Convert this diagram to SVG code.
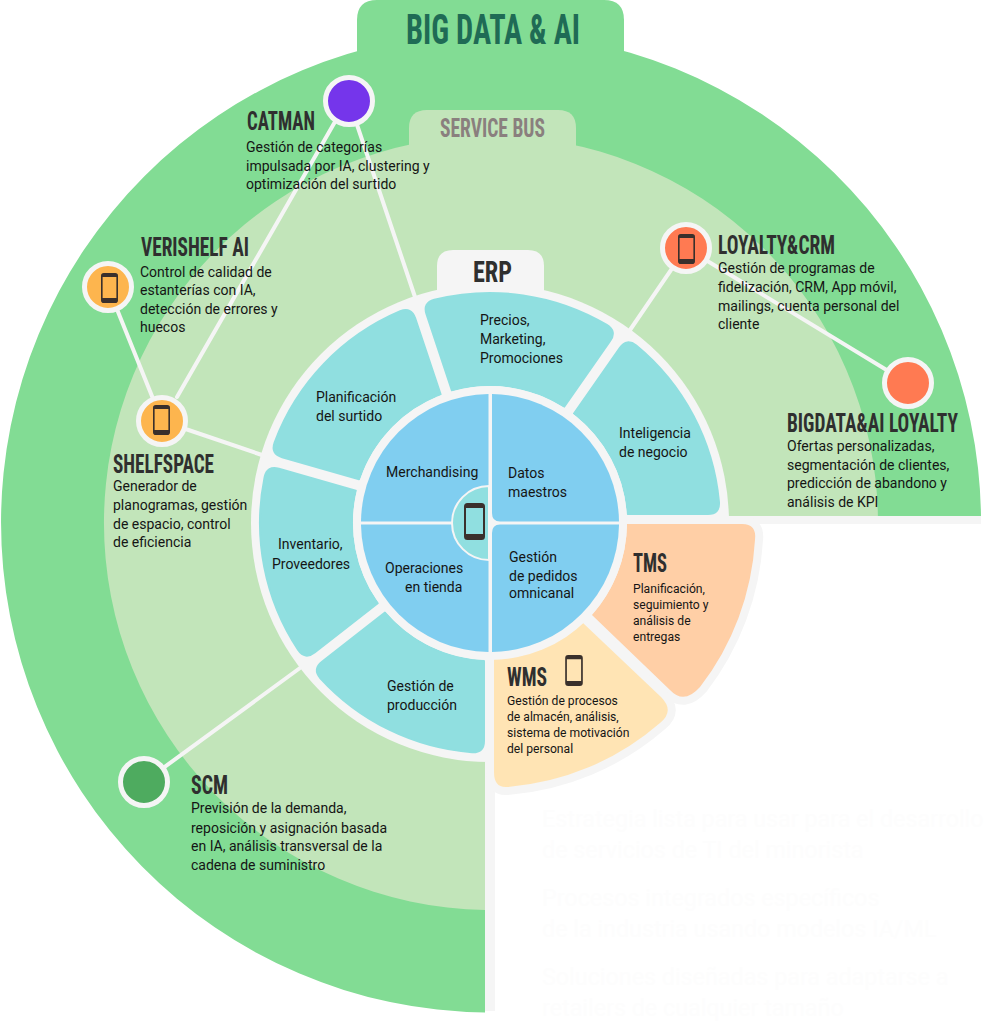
<svg xmlns="http://www.w3.org/2000/svg" width="991" height="1024" viewBox="0 0 991 1024">
<style>
text{font-family:"Roboto","Liberation Sans",sans-serif;fill:#151515;font-size:15px}
text:not(.t):not(.f){transform-box:fill-box;transform-origin:left center;transform:scaleX(.935)}
.t{font-family:"Liberation Sans Narrow","Roboto Condensed","Roboto",sans-serif;font-weight:700;font-size:26px;fill:#2f2f2f}
.s{font-size:13px}
.f{font-size:23.3px;fill:#fdfdfd}
.sec{fill:#90DFE0;stroke:#90DFE0;stroke-width:2;stroke-linejoin:round}
.q{fill:#80CEF0}
.ring{fill:none;stroke:#F5F5F5;stroke-width:4;stroke-linecap:round}
.w{fill:#F5F5F5}
.n{stroke:#F5F5F5;stroke-width:5}
.ph{fill:#3a302c;fill-rule:evenodd}
.out{stroke:#F5F5F5;stroke-width:16;stroke-linejoin:round;paint-order:stroke}
</style>
<defs>
<symbol id="phone" viewBox="0 0 21 37" overflow="visible">
<path class="ph" d="M3.5 0H17.5A3.5 3.5 0 0 1 21 3.5V33.5A3.5 3.5 0 0 1 17.5 37H3.5A3.5 3.5 0 0 1 0 33.5V3.5A3.5 3.5 0 0 1 3.5 0ZM2 5V31H19V5Z"/>
</symbol>
</defs>
<g id="background">
<path d="M485 1012.5A490 490 0 1 1 981 516H485Z" fill="#82DC94"/>
<path d="M357 60V20Q357 0 377 0H604Q624 0 624 20V60Z" fill="#82DC94"/>
<path d="M485 909.9A387 387 0 1 1 877.9 516H485Z" fill="#C2E5BA"/>
<path d="M409 150V128Q409 110 427 110H558Q576 110 576 128V150Z" fill="#C2E5BA"/>
<rect x="485" y="516" width="496" height="8" class="w"/>
<rect x="485" y="516" width="10" height="495" class="w"/>
</g>
<g id="connectors">
<path class="ring" d="M349 101L415 297M336 120L177 397M108 287L162 421M162 421L262 455M686 248L630 330M686 248L908 383M144 782L300 668"/>
</g>
<g id="erp-ring">
<circle cx="490" cy="523" r="239" class="w"/>
<path d="M437 300V266Q437 250 453 250H528Q544 250 544 266V300Z" class="w"/>
</g>
<g id="sector-inteligencia"><path class="sec" d="M627.7 514H708Q719.8 514 719 502A230 230 0 0 0 636.3 345.5Q626.8 338.1 619.9 347.9L574 413.5A138 138 0 0 1 627.7 514Z"/><text x="619" y="438">Inteligencia</text><text x="619" y="457">de negocio</text></g>
<g id="sector-precios"><path class="sec" d="M610.1 341Q617 331.3 606.8 324.9A230 230 0 0 0 434.3 299.8Q422.7 303 426.6 314.4L451.9 390.4A138 138 0 0 1 564.2 406.6Z"/><text x="480" y="325">Precios,</text><text x="480" y="344">Marketing,</text><text x="480" y="363">Promociones</text></g>
<g id="sector-planificacion"><path class="sec" d="M415.2 318.3Q411.4 306.8 400.2 311.3A230 230 0 0 0 274.6 442.5Q270.6 453.9 282.2 457.2L359.1 479.2A138 138 0 0 1 440.6 394.2Z"/><text x="316" y="402">Planificación</text><text x="316" y="421">del surtido</text></g>
<g id="sector-inventario"><path class="sec" d="M278.9 468.7Q267.3 465.4 264.6 477.1A230 230 0 0 0 298.2 650Q305.1 659.9 314.6 652.4L377.7 603.2A138 138 0 0 1 355.8 490.8Z"/><text x="278" y="549">Inventario,</text><text x="272" y="569">Proveedores</text></g>
<g id="sector-produccion"><path class="sec" d="M322 661.9Q312.5 669.3 320.4 678.3A230 230 0 0 0 472 752.3Q484 752.9 484 741V660.9A138 138 0 0 1 385 612.6Z"/><text x="387" y="691">Gestión de</text><text x="387" y="710">producción</text></g>
<g id="tms">
<path class="out" d="M627 524H742Q757 524 755 540A266 266 0 0 1 700 687Q684 705 670 690L592 615A140 140 0 0 0 627 524Z" fill="#FFCFA6"/>
<text class="t" x="633" y="572" textLength="34" lengthAdjust="spacingAndGlyphs">TMS</text>
<text class="s" x="633" y="593">Planificación,</text><text class="s" x="633" y="609">seguimiento y</text><text class="s" x="633" y="625">análisis de</text><text class="s" x="633" y="641">entregas</text>
</g>
<g id="wms">
<path class="out" d="M583 623L661 697Q675 711 660 723A264 264 0 0 1 507 787Q494 788 494 772V659A137 137 0 0 0 583 623Z" fill="#FFE4B4"/>
<text class="t" x="507" y="686" textLength="40" lengthAdjust="spacingAndGlyphs">WMS</text>
<use href="#phone" x="565" y="655" width="18" height="31"/>
<text class="s" x="507" y="705">Gestión de procesos</text><text class="s" x="507" y="721">de almacén, análisis,</text><text class="s" x="507" y="737">sistema de motivación</text><text class="s" x="507" y="753">del personal</text>
</g>
<g id="core">
<circle cx="490" cy="523" r="137" class="w"/>
<path class="q" d="M488.500 394A129 129 0 0 0 361 521.500H488.500Z"/>
<path class="q" d="M492 394A129 129 0 0 1 619 521.500H500Q492 521.500 492 513Z"/>
<path class="q" d="M488.500 524.500H361A129 129 0 0 0 488.500 652Z"/>
<path class="q" d="M492 533Q492 524.500 500 524.500H619A129 129 0 0 1 492 652Z"/>
<path d="M489 486A37 37 0 0 0 489 560Z" fill="#90DFE0" stroke="#F5F5F5" stroke-width="2"/>
<use href="#phone" x="464" y="503" width="21" height="37"/>
<text x="386" y="477">Merchandising</text>
<text x="508" y="478">Datos</text><text x="508" y="497">maestros</text>
<text x="385" y="573">Operaciones</text><text x="405" y="592">en tienda</text>
<text x="509" y="562">Gestión</text><text x="509" y="581">de pedidos</text><text x="509" y="598">omnicanal</text>
</g>
<g id="node-catman"><circle class="n" cx="349" cy="101" r="23.5" fill="#7535EB"/>
<text class="t" x="247" y="130" textLength="68" lengthAdjust="spacingAndGlyphs">CATMAN</text>
<text x="246" y="152">Gestión de categorías</text><text x="246" y="171">impulsada por IA, clustering y</text><text x="246" y="189">optimización del surtido</text></g>
<g id="node-verishelf"><circle class="n" cx="108" cy="287" r="23.5" fill="#FDB54E"/><use href="#phone" x="101" y="272" width="17" height="32"/>
<text class="t" x="141" y="256" textLength="108" lengthAdjust="spacingAndGlyphs">VERISHELF AI</text>
<text x="140" y="277">Control de calidad de</text><text x="140" y="295">estanterías con IA,</text><text x="140" y="314">detección de errores y</text><text x="140" y="332">huecos</text></g>
<g id="node-shelfspace"><circle class="n" cx="162" cy="421" r="23.5" fill="#FDB54E"/><use href="#phone" x="153" y="404" width="17" height="32"/>
<text class="t" x="113" y="473" textLength="101" lengthAdjust="spacingAndGlyphs">SHELFSPACE</text>
<text x="113" y="491">Generador de</text><text x="113" y="510">planogramas, gestión</text><text x="113" y="529">de espacio, control</text><text x="113" y="547">de eficiencia</text></g>
<g id="node-loyalty"><circle class="n" cx="686" cy="248" r="23.5" fill="#FF7A52"/><use href="#phone" x="678" y="233" width="17" height="32"/>
<text class="t" x="718" y="254" textLength="117" lengthAdjust="spacingAndGlyphs">LOYALTY&amp;CRM</text>
<text x="718" y="273">Gestión de programas de</text><text x="718" y="292">fidelización, CRM, App móvil,</text><text x="718" y="311">mailings, cuenta personal del</text><text x="718" y="329">cliente</text></g>
<g id="node-bigdata"><circle class="n" cx="908" cy="383" r="23.5" fill="#FF7A52"/>
<text class="t" x="787" y="432" textLength="171" lengthAdjust="spacingAndGlyphs">BIGDATA&amp;AI LOYALTY</text>
<text x="787" y="451">Ofertas personalizadas,</text><text x="787" y="470">segmentación de clientes,</text><text x="787" y="488">predicción de abandono y</text><text x="787" y="507">análisis de KPI</text></g>
<g id="node-scm"><circle class="n" cx="144" cy="782" r="23.5" fill="#4EAB5F"/>
<text class="t" x="191" y="794" textLength="37" lengthAdjust="spacingAndGlyphs">SCM</text>
<text x="191" y="813">Previsión de la demanda,</text><text x="191" y="833">reposición y asignación basada</text><text x="191" y="851">en IA, análisis transversal de la</text><text x="191" y="870">cadena de suministro</text></g>
<g id="labels">
<text class="t" x="406" y="44" textLength="174" lengthAdjust="spacingAndGlyphs" style="font-size:42px;fill:#1F6B55">BIG DATA &amp; AI</text>
<text class="t" x="440" y="137" textLength="105" lengthAdjust="spacingAndGlyphs" style="fill:#8A7F7E">SERVICE BUS</text>
<text class="t" x="473" y="282" textLength="39" lengthAdjust="spacingAndGlyphs" style="font-size:30px">ERP</text>
<text class="f" x="542" y="827">Estrategia lista para usar para el desarrollo</text>
<text class="f" x="542" y="858">de servicios de TI del minorista</text>
<text class="f" x="542" y="906">Procesos integrados específicos</text>
<text class="f" x="542" y="937">de la industria usando modelos IA/ML</text>
<text class="f" x="542" y="985">Soluciones diseñadas para adaptarse a</text>
<text class="f" x="542" y="1016">retailers de cualquier tamaño</text>
</g>
</svg>
